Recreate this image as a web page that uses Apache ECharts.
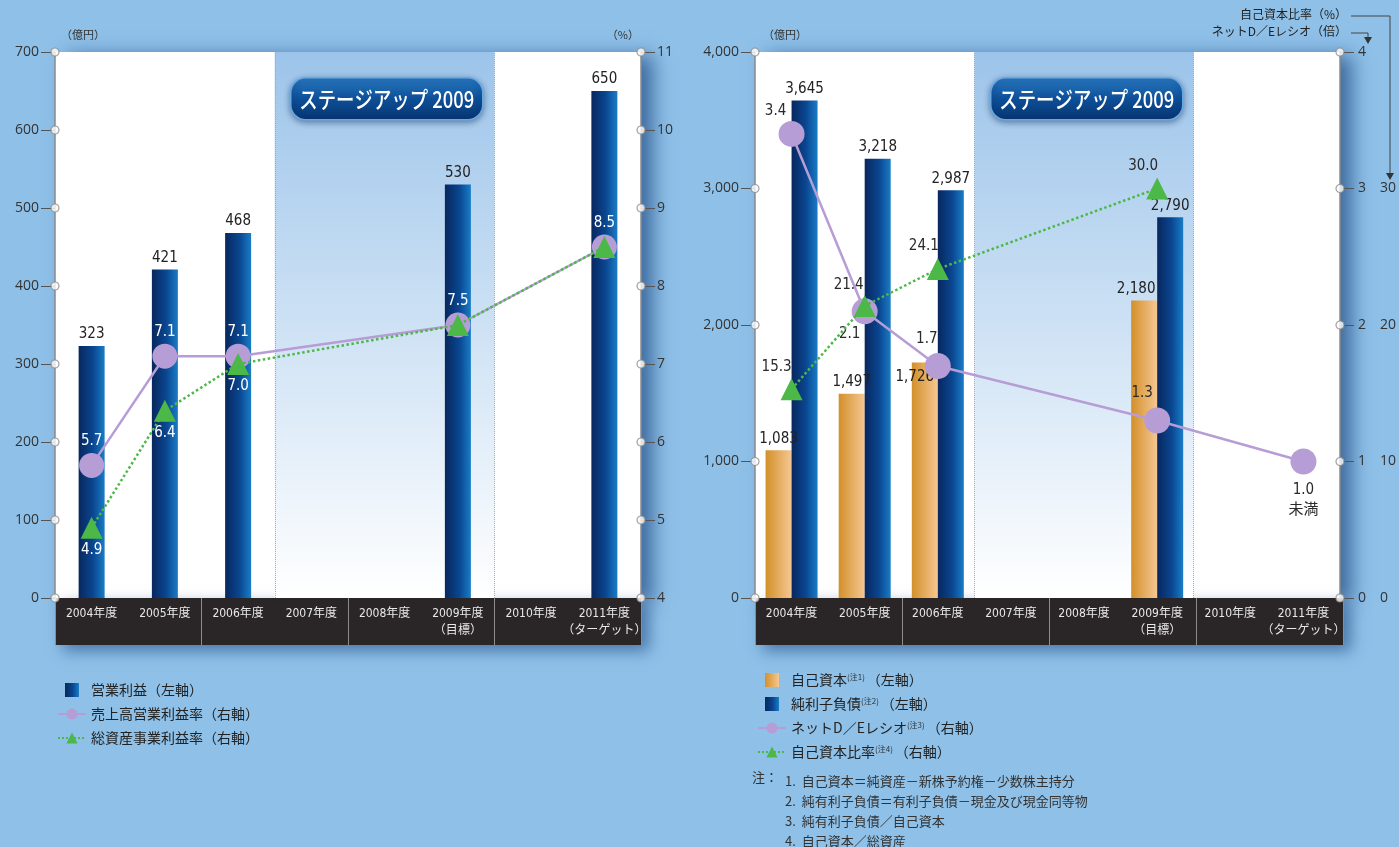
<!DOCTYPE html>
<html>
<head>
<meta charset="utf-8">
<script src="https://cdn.jsdelivr.net/npm/echarts@6/dist/echarts.min.js"></script>
<style>
  html, body { margin: 0; padding: 0; background: #8ec0e8; }
  #c { width: 1399px; height: 847px; }
</style>
</head>
<body>
<div id="c"></div>
<script>
// ---- data ----
const years = ['2004年度', '2005年度', '2006年度', '2007年度', '2008年度', '2009年度\n（目標）', '2010年度', '2011年度\n（ターゲット）'];

// left panel: operating profit (100M yen) and margins (%)
const opProfit   = [323, 421, 468, null, null, 530, null, 650];
const opMargin   = [5.7, 7.1, 7.1, null, null, 7.5, null, 8.5];
const assetRoa   = [4.9, 6.4, 7.0, null, null, 7.5, null, 8.5];

// right panel: equity / net interest-bearing debt (100M yen), D/E ratio (x), equity ratio (%)
const equity      = [1083, 1497, 1726, null, null, 2180, null, null];
const netDebt     = [3645, 3218, 2987, null, null, 2790, null, null];
const deRatio     = [3.4, 2.1, 1.7, null, null, 1.3, null, 1.0];
const equityRatio = [15.3, 21.4, 24.1, null, null, 30.0, null, null];

// axis ticks
const leftAxisTicks   = [0, 100, 200, 300, 400, 500, 600, 700];
const pctAxisTicks    = [4, 5, 6, 7, 8, 9, 10, 11];
const yenAxisTicks    = [0, 1000, 2000, 3000, 4000];
const ratioAxisTicks  = [0, 1, 2, 3, 4];

// "Stage Up 2009" period spans these category slots
const stageFrom = 3, stageTo = 6;

// ---- styling helpers ----
const NUM_FONT = "'DejaVu Sans Condensed','Liberation Sans Narrow','Roboto','Noto Sans CJK JP',sans-serif";
const JP_FONT = "'Noto Sans CJK JP','Noto Sans',sans-serif";
const AXIS_FONT = "'Open Sans',sans-serif";
const LG = echarts.graphic.LinearGradient;
const navyGrad = () => new LG(0, 0, 1, 0, [
  { offset: 0, color: '#08275e' }, { offset: 0.55, color: '#0a4690' }, { offset: 1, color: '#1a7cc6' }]);
const goldGrad = () => new LG(0, 0, 1, 0, [
  { offset: 0, color: '#d3902a' }, { offset: 1, color: '#f5c792' }]);
const skyGrad = () => new LG(0, 0, 0, 1, [
  { offset: 0, color: '#9cc4ea' }, { offset: 1, color: '#ffffff' }]);
const PURPLE = '#b79dd5', GREEN = '#4cb848';
const fmt = v => v == null ? '' : Number(v).toLocaleString('en-US');

function plotGrid(left, width) {
  return { left, top: 52, width, height: 546, show: true, backgroundColor: '#ffffff', borderWidth: 0,
    shadowBlur: 18, shadowColor: 'rgba(10,50,110,0.6)', shadowOffsetX: 12, shadowOffsetY: 4 };
}
function bandGrid(left, width) {
  return { left, top: 598, width, height: 47, show: true, backgroundColor: '#2a2526', borderWidth: 0,
    shadowBlur: 14, shadowColor: 'rgba(10,50,110,0.5)', shadowOffsetX: 8, shadowOffsetY: 6 };
}
function catAxis(gridIndex) {
  return { type: 'category', gridIndex, data: years, boundaryGap: true,
    axisLine: { show: false }, axisTick: { show: false }, splitLine: { show: false },
    axisLabel: { interval: 0, color: '#e8e8e8', fontFamily: NUM_FONT, fontSize: 12, lineHeight: 17, margin: 7 } };
}
function slotAxis(gridIndex) {
  return { type: 'value', gridIndex, min: 0, max: years.length, show: false };
}
function bandXAxis(gridIndex) {
  return { type: 'category', gridIndex, data: years, boundaryGap: true,
    axisLine: { show: false }, axisTick: { show: false }, axisLabel: { show: false },
    splitLine: { show: true, lineStyle: { color: '#8c8c8c', width: 1 } } };
}
function valAxis(gridIndex, ticks, position, extra) {
  return Object.assign({ type: 'value', gridIndex, position,
    min: ticks[0], max: ticks[ticks.length - 1], interval: ticks[1] - ticks[0],
    axisLine: { show: true, lineStyle: { color: '#8a8a8a', width: 1.5 } },
    axisTick: { show: true, length: 14, lineStyle: { color: '#555', width: 1 } },
    axisLabel: { color: '#333', fontSize: 14, margin: 16, fontFamily: AXIS_FONT },
    splitLine: { show: false },
    nameTextStyle: { color: '#333', fontSize: 11, fontFamily: JP_FONT }
  }, extra || {});
}
// dotted period boundaries + sky gradient for the stage-up period
function stageSeries(xAxisIndex, yAxisIndex) {
  return { type: 'scatter', xAxisIndex, yAxisIndex, data: [], silent: true, z: 1,
    markArea: { silent: true, z: 1, itemStyle: { color: skyGrad() },
      data: [[{ xAxis: stageFrom }, { xAxis: stageTo }]] },
    markLine: { silent: true, z: 2, symbol: 'none', label: { show: false },
      lineStyle: { type: 'dotted', color: '#a8a8a8', width: 1 },
      data: [{ xAxis: stageFrom }, { xAxis: stageTo }] } };
}
// hollow tick knobs on an axis edge
function knobSeries(xAxisIndex, yAxisIndex, edge, ticks) {
  return { type: 'scatter', xAxisIndex, yAxisIndex, silent: true, clip: false, z: 10,
    symbol: 'circle', symbolSize: 8,
    itemStyle: { color: '#ffffff', borderColor: '#8a8a8a', borderWidth: 1.2 },
    data: ticks.map(v => [edge, v]) };
}

// ---- series names ----
const L_BAR = '営業利益（左軸）', L_MARGIN = '売上高営業利益率（右軸）', L_ROA = '総資産事業利益率（右軸）';
const R_EQ = '自己資本', R_DEBT = '純利子負債', R_DE = 'ネットD／Eレシオ', R_RATIO = '自己資本比率';
const rightLegendNames = [R_EQ, R_DEBT, R_DE, R_RATIO];
const rightLegendSide  = ['（左軸）', '（左軸）', '（右軸）', '（右軸）'];

// per-point label placement for the right panel
const deLabelPlace = [
  { position: 'top', offset: [-16, 4] }, { position: 'bottom', offset: [-15, -4] },
  { position: 'top', offset: [-11, 0] }, null, null,
  { position: 'top', offset: [-15, 0] }, null, { position: 'bottom', offset: [0, 2] }];
const ratioLabelPlace = [
  { offset: [-15, 0] }, { offset: [-16, 2] }, { offset: [-14, 0] }, null, null,
  { offset: [-14, 0] }, null, null];
const equityLabelPlace = [null, null, { offset: [-10, 26] }, null, null, { offset: [-8, 0] }, null, null];

const squareIcon = 'path://M0,0h10v10h-10z';

// "ステージアップ 2009" badge
function badge(x) {
  return {
    type: 'group', left: x, top: 77, z: 50,
    children: [
      { type: 'rect', z: 50, shape: { x: 0, y: 0, width: 192, height: 42, r: 15 },
        style: { fill: new LG(0, 0, 0, 1, [{ offset: 0, color: '#2a7cc4' }, { offset: 0.5, color: '#0d4f98' }, { offset: 1, color: '#07346f' }]),
          stroke: '#6aa8e0', lineWidth: 1.5, shadowBlur: 6, shadowColor: 'rgba(0,30,80,0.45)', shadowOffsetY: 2 } },
      { type: 'text', z: 51, x: 96, y: 22, scaleX: 0.8,
        style: { text: 'ステージアップ 2009', fill: '#ffffff', font: '500 23px ' + JP_FONT,
          align: 'center', verticalAlign: 'middle' } }
    ]
  };
}

const option = {
  backgroundColor: '#8ec0e8',
  animation: false,
  textStyle: { fontFamily: JP_FONT },
  grid: [plotGrid(55, 586), bandGrid(55, 586), plotGrid(755, 588), bandGrid(755, 588)],
  xAxis: [catAxis(0), slotAxis(0), bandXAxis(1), catAxis(2), slotAxis(2), bandXAxis(3)],
  yAxis: [
    valAxis(0, leftAxisTicks, 'left', { name: '（億円）', nameGap: 12,
      nameTextStyle: { color: '#333', fontSize: 11, align: 'left', padding: [0, 0, 0, 6], fontFamily: JP_FONT } }),
    valAxis(0, pctAxisTicks, 'right', { name: '（%）', nameGap: 12,
      nameTextStyle: { color: '#333', fontSize: 11, align: 'right', padding: [0, 2, 0, 0], fontFamily: JP_FONT } }),
    { type: 'value', gridIndex: 1, show: false, min: 0, max: 1 },
    valAxis(2, yenAxisTicks, 'left', { name: '（億円）', nameGap: 12,
      axisLabel: { color: '#333', fontSize: 14, margin: 16, fontFamily: AXIS_FONT, formatter: fmt },
      nameTextStyle: { color: '#333', fontSize: 11, align: 'left', padding: [0, 0, 0, 8], fontFamily: JP_FONT } }),
    valAxis(2, ratioAxisTicks, 'right', { axisLabel: { color: '#333', fontSize: 14, margin: 18, fontFamily: AXIS_FONT } }),
    { type: 'value', gridIndex: 2, position: 'right', offset: 38, min: 0, max: 40, interval: 10,
      axisLine: { show: false }, axisTick: { show: false }, splitLine: { show: false },
      axisLabel: { color: '#333', fontSize: 14, margin: 2, fontFamily: AXIS_FONT,
        formatter: v => (v === 40 ? '' : String(v)) } },
    { type: 'value', gridIndex: 3, show: false, min: 0, max: 1 }
  ],
  legend: [
    { left: 52, top: 678, orient: 'vertical', itemWidth: 28, itemHeight: 14, itemGap: 10,
      selectedMode: false, textStyle: { color: '#222', fontSize: 14, fontFamily: JP_FONT },
      data: [{ name: L_BAR, icon: squareIcon }, { name: L_MARGIN }, { name: L_ROA }] },
    { left: 752, top: 668, orient: 'vertical', itemWidth: 28, itemHeight: 14, itemGap: 10,
      selectedMode: false,
      textStyle: { color: '#222', fontSize: 14, fontFamily: JP_FONT,
        rich: { n: { fontSize: 8, color: '#333', verticalAlign: 'top', padding: [0, 2, 6, 0], fontFamily: JP_FONT } } },
      formatter: name => {
        const i = rightLegendNames.indexOf(name);
        return name + '{n|(注' + (i + 1) + ')}' + rightLegendSide[i];
      },
      data: [{ name: R_EQ, icon: squareIcon }, { name: R_DEBT, icon: squareIcon }, { name: R_DE }, { name: R_RATIO }] }
  ],
  series: [
    // ---- left panel ----
    stageSeries(1, 0),
    { name: L_BAR, type: 'bar', xAxisIndex: 0, yAxisIndex: 0, barWidth: 26, z: 3,
      itemStyle: { color: navyGrad() }, data: opProfit,
      label: { show: true, position: 'top', distance: 4, color: '#222', fontSize: 15, fontFamily: NUM_FONT } },
    { name: L_MARGIN, type: 'line', xAxisIndex: 0, yAxisIndex: 1, connectNulls: true, z: 5,
      symbol: 'circle', symbolSize: 25, lineStyle: { color: PURPLE, width: 2.5 },
      itemStyle: { color: PURPLE }, data: opMargin,
      label: { show: true, position: 'top', distance: 4, color: '#ffffff', fontSize: 15, fontFamily: NUM_FONT,
        formatter: p => p.value.toFixed(1) } },
    { name: L_ROA, type: 'line', xAxisIndex: 0, yAxisIndex: 1, connectNulls: true, z: 6,
      symbol: 'triangle', symbolSize: 22, lineStyle: { color: GREEN, width: 2.5, type: 'dotted' },
      itemStyle: { color: GREEN },
      data: assetRoa.map((v, i) => ({ value: v, label: { show: v !== opMargin[i] } })),
      label: { position: 'bottom', distance: 4, color: '#ffffff', fontSize: 15, fontFamily: NUM_FONT,
        formatter: p => p.value.toFixed(1) } },
    knobSeries(1, 0, 0, leftAxisTicks),
    knobSeries(1, 1, years.length, pctAxisTicks),

    // ---- right panel ----
    stageSeries(4, 3),
    { name: R_EQ, type: 'bar', xAxisIndex: 3, yAxisIndex: 3, barWidth: 26, barGap: '0%', z: 3,
      itemStyle: { color: goldGrad() },
      data: equity.map((v, i) => equityLabelPlace[i] ? { value: v, label: equityLabelPlace[i] } : v),
      label: { show: true, position: 'top', distance: 4, color: '#222', fontSize: 15, fontFamily: NUM_FONT,
        formatter: p => fmt(p.value) } },
    { name: R_DEBT, type: 'bar', xAxisIndex: 3, yAxisIndex: 3, barWidth: 26, barGap: '0%', z: 3,
      itemStyle: { color: navyGrad() }, data: netDebt,
      label: { show: true, position: 'top', distance: 4, color: '#222', fontSize: 15, fontFamily: NUM_FONT,
        formatter: p => fmt(p.value) } },
    { name: R_DE, type: 'line', xAxisIndex: 3, yAxisIndex: 4, connectNulls: true, z: 5,
      symbol: 'circle', symbolSize: 26, lineStyle: { color: PURPLE, width: 2.5 },
      itemStyle: { color: PURPLE },
      data: deRatio.map((v, i) => deLabelPlace[i] ? { value: v, label: deLabelPlace[i] } : v),
      label: { show: true, distance: 4, color: '#2a2a2a', fontSize: 15, lineHeight: 20, fontFamily: NUM_FONT,
        formatter: p => p.dataIndex === years.length - 1 ? p.value.toFixed(1) + '\n未満' : p.value.toFixed(1) } },
    { name: R_RATIO, type: 'line', xAxisIndex: 3, yAxisIndex: 5, connectNulls: true, z: 6,
      symbol: 'triangle', symbolSize: 22, lineStyle: { color: GREEN, width: 2.5, type: 'dotted' },
      itemStyle: { color: GREEN },
      data: equityRatio.map((v, i) => ratioLabelPlace[i] ? { value: v, label: ratioLabelPlace[i] } : v),
      label: { show: true, position: 'top', distance: 4, color: '#2a2a2a', fontSize: 15, fontFamily: NUM_FONT,
        formatter: p => p.value.toFixed(1) } },
    knobSeries(4, 3, 0, yenAxisTicks),
    knobSeries(4, 4, years.length, ratioAxisTicks)
  ],
  graphic: [
    badge(290),
    badge(990),
    // right-axis captions with pointer lines
    { type: 'text', right: 1399 - 1347, top: 8, z: 20,
      style: { text: '自己資本比率（%）', fill: '#222', font: '12px ' + JP_FONT } },
    { type: 'text', right: 1399 - 1347, top: 25, z: 20,
      style: { text: 'ネットD／Eレシオ（倍）', fill: '#222', font: '12px ' + JP_FONT } },
    { type: 'polyline', z: 20, shape: { points: [[1351, 16], [1390, 16], [1390, 174]] },
      style: { stroke: '#444', lineWidth: 1, fill: null } },
    { type: 'polygon', z: 20, shape: { points: [[1386, 173], [1394, 173], [1390, 180]] }, style: { fill: '#333' } },
    { type: 'polyline', z: 20, shape: { points: [[1351, 33], [1368, 33], [1368, 38]] },
      style: { stroke: '#444', lineWidth: 1, fill: null } },
    { type: 'polygon', z: 20, shape: { points: [[1364, 37], [1372, 37], [1368, 44]] }, style: { fill: '#333' } },
    // footnotes
    { type: 'text', left: 752, top: 771, z: 20,
      style: { text: '注：', fill: '#333', font: '13px ' + JP_FONT } },
    { type: 'text', left: 785, top: 771, z: 20,
      style: { text: '1.  自己資本＝純資産－新株予約権－少数株主持分\n2.  純有利子負債＝有利子負債－現金及び現金同等物\n3.  純有利子負債／自己資本\n4.  自己資本／総資産',
        fill: '#333', font: '13px ' + JP_FONT, lineHeight: 20 } }
  ]
};

const chart = echarts.init(document.getElementById('c'), null, { renderer: 'canvas' });
chart.setOption(option);
</script>
</body>
</html>
